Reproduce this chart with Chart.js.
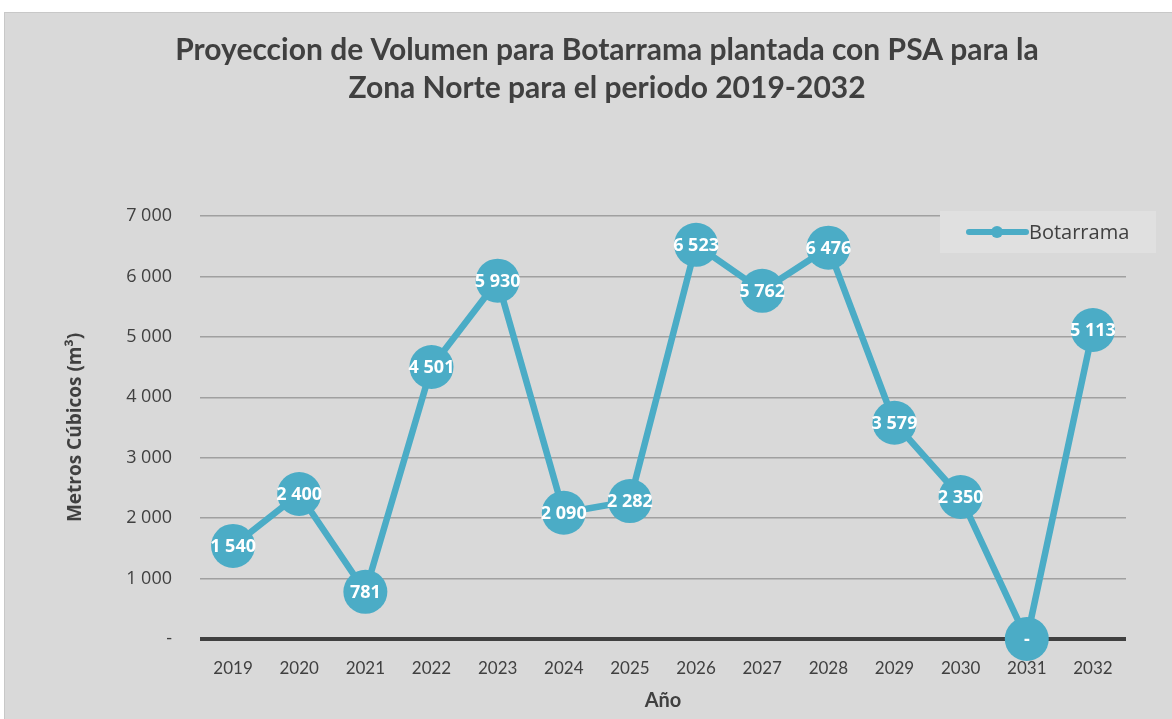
<!DOCTYPE html>
<html lang="es">
<head>
<meta charset="UTF-8">
<title>Proyeccion de Volumen Botarrama</title>
<script src="https://cdn.jsdelivr.net/npm/chart.js@4.4.1/dist/chart.umd.min.js"></script>
<style>
  body { margin: 0; background: #ffffff; }
  #wrap { position: absolute; left: 4px; top: 12px; width: 1168px; height: 707px; background: #d9d9d9; border-top: 1px solid #c8c8c8; border-left: 1px solid #c8c8c8; box-sizing: border-box; }
</style>
</head>
<body>
<div id="wrap"><canvas id="mychart" width="1167" height="706"></canvas></div>
<script>
    const years = ['2019', '2020', '2021', '2022', '2023', '2024', '2025', '2026', '2027', '2028', '2029', '2030', '2031', '2032'];
    const volumes = [1540, 2400, 781, 4501, 5930, 2090, 2282, 6523, 5762, 6476, 3579, 2350, 0, 5113];
    const seriesName = 'Botarrama';
    const yTicks = [0, 1000, 2000, 3000, 4000, 5000, 6000, 7000];
    const titleLines = ['Proyeccion de Volumen para Botarrama plantada con PSA para la', 'Zona Norte para el periodo 2019-2032'];

    const blue = '#4bacc6';
    const textColor = '#404040';

    // numbers like "6 523", zero shown as "-"
    function fmt(v) {
        if (v === 0) return '-';
        return String(v).replace(/\B(?=(\d{3})+(?!\d))/g, ' ');
    }

    // title is centred on the original chart frame, a bit right of the canvas centre
    const frameTitle = {
        id: 'frameTitle',
        afterDraw(chart) {
            const ctx = chart.ctx;
            ctx.save();
            ctx.font = 'bold 30px Lato';
            ctx.fillStyle = textColor;
            ctx.textAlign = 'center';
            ctx.textBaseline = 'middle';
            ctx.fillText(titleLines[0], 602, 37);
            ctx.fillText(titleLines[1], 602, 75);
            ctx.restore();
        }
    };

    // value labels drawn in the middle of each marker
    const pointLabels = {
        id: 'pointLabels',
        afterDatasetsDraw(chart) {
            const ctx = chart.ctx;
            const meta = chart.getDatasetMeta(0);
            ctx.save();
            ctx.font = 'bold 18px "Open Sans"';
            ctx.fillStyle = '#ffffff';
            ctx.textAlign = 'center';
            ctx.textBaseline = 'middle';
            meta.data.forEach((pt, i) => {
                ctx.fillText(fmt(volumes[i]), pt.x, pt.y + 1);
            });
            ctx.restore();
        }
    };

    // small legend box in the upper right corner of the plot
    const boxLegend = {
        id: 'boxLegend',
        afterDraw(chart) {
            const ctx = chart.ctx;
            const x = chart.chartArea.right - 186, y = chart.chartArea.top - 5;
            ctx.save();
            ctx.fillStyle = '#e0e0e0';
            ctx.fillRect(x, y, 216, 42);
            ctx.strokeStyle = blue;
            ctx.lineWidth = 6;
            ctx.lineCap = 'round';
            ctx.beginPath();
            ctx.moveTo(x + 29, y + 21);
            ctx.lineTo(x + 86, y + 21);
            ctx.stroke();
            ctx.fillStyle = blue;
            ctx.beginPath();
            ctx.arc(x + 57, y + 21, 6, 0, Math.PI * 2);
            ctx.fill();
            ctx.fillStyle = textColor;
            ctx.font = '20px "Open Sans"';
            ctx.textBaseline = 'middle';
            ctx.fillText(seriesName, x + 89, y + 22);
            ctx.restore();
        }
    };

    const ctx = document.getElementById('mychart').getContext('2d');
    const myChart = new Chart(ctx, {
        type: 'line',
        data: {
            labels: years,
            datasets: [{
                label: seriesName,
                data: volumes,
                borderColor: blue,
                backgroundColor: blue,
                borderWidth: 6.5,
                pointRadius: 22,
                pointHoverRadius: 22,
                pointBorderWidth: 0,
                tension: 0,
                clip: false
            }]
        },
        plugins: [frameTitle, pointLabels, boxLegend],
        options: {
            responsive: false,
            animation: false,
            events: [],
            layout: { padding: { top: 203, right: 46, bottom: 0, left: 0 } },
            plugins: {
                legend: { display: false },
                tooltip: { enabled: false },
                title: { display: false }
            },
            scales: {
                x: {
                    offset: true,
                    grid: { display: false, drawTicks: false },
                    border: { display: false },
                    ticks: { color: textColor, font: { family: 'Lato', size: 17 }, padding: 19 },
                    title: {
                        display: true,
                        text: 'Año',
                        color: textColor,
                        font: { family: 'Lato', size: 20, weight: 'bold' },
                        padding: { top: 4, bottom: 6 }
                    },
                    afterFit(scale) { scale.height = 80; }
                },
                y: {
                    min: 0,
                    max: 7000,
                    afterBuildTicks(scale) { scale.ticks = yTicks.map(v => ({ value: v })); },
                    grid: {
                        drawTicks: false,
                        color: c => c.tick.value === 0 ? '#404040' : '#a0a0a0',
                        lineWidth: c => c.tick.value === 0 ? 4 : 1.5
                    },
                    border: { display: false },
                    ticks: {
                        color: textColor,
                        font: { family: 'Open Sans', size: 18 },
                        padding: 28,
                        callback: v => fmt(v)
                    },
                    title: {
                        display: true,
                        text: 'Metros Cúbicos (m³)',
                        color: textColor,
                        font: { family: 'Open Sans', size: 19, weight: 'bold' },
                        padding: { top: 59, bottom: 0 }
                    },
                    afterFit(scale) { scale.width = 195; }
                }
            }
        }
    });
</script>
</body>
</html>
